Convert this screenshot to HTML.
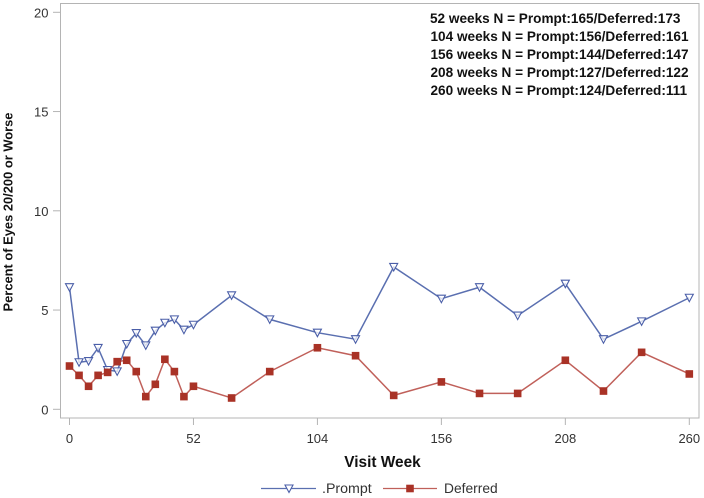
<!DOCTYPE html>
<html>
<head>
<meta charset="utf-8">
<style>
html,body{margin:0;padding:0;background:#fff;}
svg{display:block;font-family:"Liberation Sans",sans-serif;}
</style>
</head>
<body>
<svg id="chart" width="704" height="498" viewBox="0 0 704 498" xmlns="http://www.w3.org/2000/svg"></svg>
<script>
var weeks = [0,4,8,12,16,20,24,28,32,36,40,44,48,52,68,84,104,120,136,156,172,188,208,224,240,260];
var promptValues = [6.15,2.37,2.43,3.09,1.98,1.91,3.29,3.84,3.22,3.96,4.36,4.53,4.01,4.26,5.74,4.53,3.86,3.53,7.17,5.57,6.15,4.72,6.33,3.53,4.43,5.62];
var deferredValues = [2.18,1.71,1.16,1.71,1.86,2.40,2.47,1.90,0.64,1.26,2.52,1.90,0.64,1.16,0.57,1.90,3.10,2.70,0.70,1.38,0.80,0.80,2.47,0.92,2.87,1.78];
var xTickLabels = [0,52,104,156,208,260];
var yTickLabels = [0,5,10,15,20];
var annotationLines = [
  "52 weeks N = Prompt:165/Deferred:173",
  "104 weeks N = Prompt:156/Deferred:161",
  "156 weeks N = Prompt:144/Deferred:147",
  "208 weeks N = Prompt:127/Deferred:122",
  "260 weeks N = Prompt:124/Deferred:111"
];

var NS = 'http://www.w3.org/2000/svg';
var svg = document.getElementById('chart');
var BLUE = '#5a6fb0', BLUE_DARK = '#4a5ea8', RED = '#c0605a', REDFILL = '#a93226', AXIS = '#b4b4b4';

function xScale(w){ return 69.5 + (w / 260) * 619.8; }
function yScale(v){ return 409.3 - (v / 20) * 397; }

function make(tag, attrs, parent){
  var el = document.createElementNS(NS, tag);
  for (var k in attrs) el.setAttribute(k, attrs[k]);
  (parent || svg).appendChild(el);
  return el;
}

var frame = make('rect', {x:60.5, y:3.5, width:638.5, height:414.5, fill:'none', stroke:AXIS, 'stroke-width':1});



xTickLabels.forEach(function(t){
  var x = xScale(t);
  var tick = make('line', {x1:x, x2:x, y1:418, y2:425, stroke:AXIS});
  
  
  var label = make('text', {x:x, y:443, 'text-anchor':'middle', 'font-size':13, fill:'#333'});
  label.textContent = t;
  
  
});

yTickLabels.forEach(function(t){
  var y = yScale(t);
  var tick = make('line', {x1:53, x2:60.5, y1:y, y2:y, stroke:AXIS});
  
  
  var label = make('text', {x:48.5, y:y + 5, 'text-anchor':'end', 'font-size':13, fill:'#333'});
  label.textContent = t;
  
  
});

var yTitle = make('text', {transform:'translate(12.5,212) rotate(-90)', 'text-anchor':'middle', 'font-size':12.9, 'font-weight':'bold', fill:'#111'});
yTitle.textContent = 'Percent of Eyes 20/200 or Worse';



var xTitle = make('text', {x:382.5, y:467, 'text-anchor':'middle', 'font-size':15.4, 'font-weight':'bold', fill:'#111'});
xTitle.textContent = 'Visit Week';



function pointsFor(values){
  return values.map(function(v, i){ return xScale(weeks[i]) + ',' + yScale(v); }).join(' ');
}
function triangle(cx, cy){
  return (cx - 4) + ',' + (cy - 3.5) + ' ' + (cx + 4) + ',' + (cy - 3.5) + ' ' + cx + ',' + (cy + 4);
}

var promptLine = make('polyline', {points:pointsFor(promptValues), fill:'none', stroke:BLUE, 'stroke-width':1.5});



var deferredLine = make('polyline', {points:pointsFor(deferredValues), fill:'none', stroke:RED, 'stroke-width':1.5});



promptValues.forEach(function(v, i){
  var m = make('polygon', {points:triangle(xScale(weeks[i]), yScale(v)), fill:'#fff', 'fill-opacity':0.75, stroke:BLUE_DARK, 'stroke-width':1.1});
  
  
});

deferredValues.forEach(function(v, i){
  var m = make('rect', {x:xScale(weeks[i]) - 3.8, y:yScale(v) - 3.8, width:7.6, height:7.6, fill:REDFILL});
  
  
});

annotationLines.forEach(function(s, i){
  var t = make('text', {x:i === 0 ? 430 : 430.5, y:23 + i * 18, 'font-size':13.6, 'font-weight':'bold', fill:'#111'});
  t.textContent = s;
  
  
});

var legendLine1 = make('line', {x1:261, x2:316, y1:488.5, y2:488.5, stroke:BLUE, 'stroke-width':1.2});


var legendMark1 = make('polygon', {points:triangle(289, 488.5), fill:'#fff', stroke:BLUE_DARK, 'stroke-width':1.1});


var legendText1 = make('text', {x:322, y:493, 'font-size':14.2, fill:'#333'});
legendText1.textContent = '.Prompt';



var legendLine2 = make('line', {x1:383, x2:437, y1:488.5, y2:488.5, stroke:RED, 'stroke-width':1.2});


var legendMark2 = make('rect', {x:406.2, y:484.7, width:7.6, height:7.6, fill:REDFILL});


var legendText2 = make('text', {x:444, y:493, 'font-size':13.8, fill:'#333'});
legendText2.textContent = 'Deferred';


</script>
</body>
</html>
